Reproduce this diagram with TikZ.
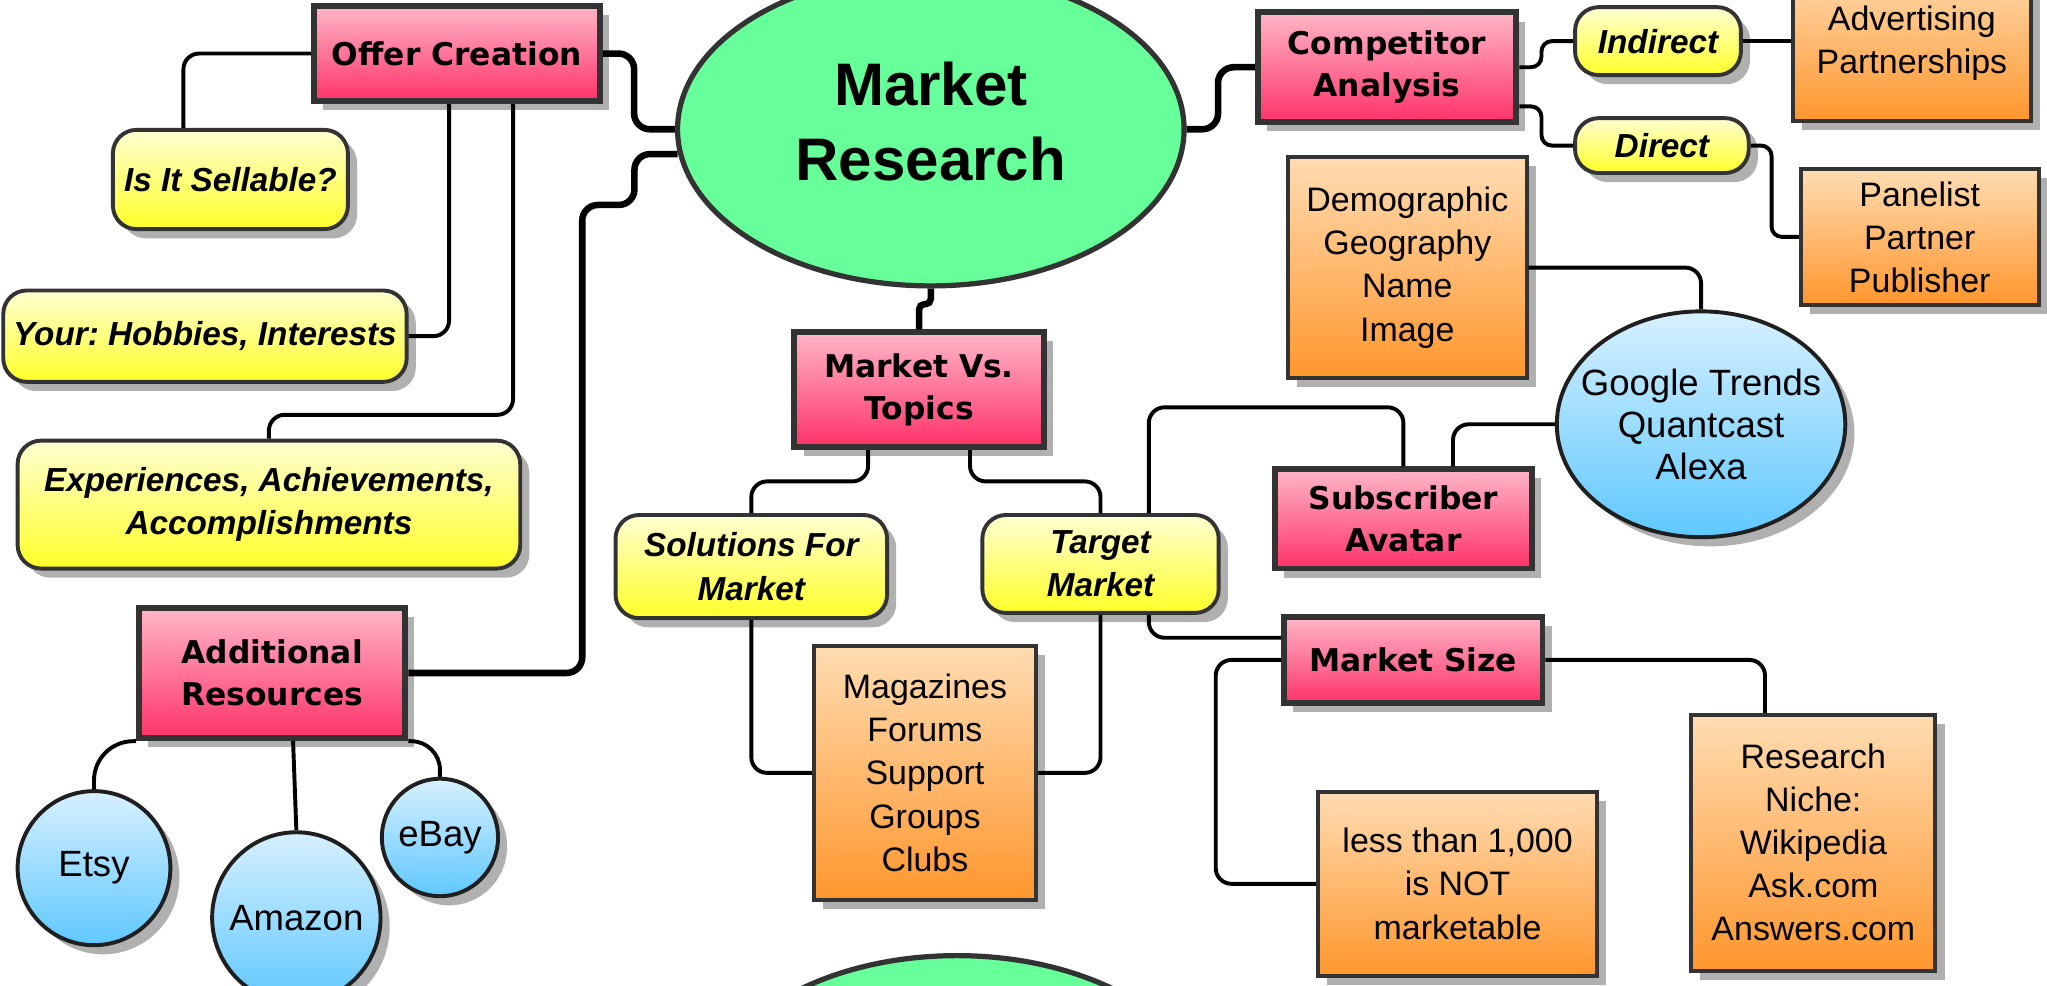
\documentclass[tikz,border=0pt]{standalone}
\usepackage{fontspec}
\setmainfont{Liberation Sans}
\newfontfamily\dejavu{DejaVu Sans}
\usetikzlibrary{shapes.geometric,shadows,calc}
\definecolor{bord}{RGB}{51,51,51}
\definecolor{shadowc}{RGB}{176,176,176}
\definecolor{pinktop}{RGB}{255,182,200}
\definecolor{pinkbot}{RGB}{255,50,105}
\definecolor{yeltop}{RGB}{255,255,210}
\definecolor{yelbot}{RGB}{255,255,40}
\definecolor{ortop}{RGB}{255,220,178}
\definecolor{orbot}{RGB}{255,150,45}
\definecolor{bltop}{RGB}{215,240,255}
\definecolor{blbot}{RGB}{95,200,255}
\definecolor{greenc}{RGB}{102,255,153}
\frenchspacing
\begin{document}
\begin{tikzpicture}[x=1pt,y=-1pt,
  shad/.style={drop shadow={shadow xshift=7pt,shadow yshift=-7pt,fill=shadowc,opacity=1}},
  pinkbox/.style={rectangle,draw=bord,line width=4.5pt,top color=pinktop,bottom color=pinkbot,shad,inner sep=0pt,align=center,font=\dejavu\bfseries\fontsize{24}{32.5}\selectfont},
  yelbox/.style={rectangle,rounded corners=18pt,draw=bord,line width=3pt,top color=yeltop,bottom color=yelbot,shad,inner sep=0pt,align=center,font=\bfseries\itshape\fontsize{25.5}{33}\selectfont},
  orbox/.style={rectangle,draw=bord,line width=3pt,top color=ortop,bottom color=orbot,shad,inner sep=0pt,align=center,font=\fontsize{26}{33}\selectfont},
  bluell/.style={ellipse,draw=black!88,line width=3pt,top color=bltop,bottom color=blbot,shad,inner xsep=-20pt,inner ysep=0pt,align=center,font=\fontsize{28}{32}\selectfont},
  greenell/.style={ellipse,draw=bord,line width=4pt,fill=greenc,inner sep=0pt},
  bigtext/.style={align=center,inner sep=0pt,font=\bfseries\fontsize{46}{57}\selectfont},
  conn/.style={draw=black,line width=3pt,rounded corners=12pt},
  mainconn/.style={conn,line width=5pt},
]
\useasboundingbox (0,0) rectangle (1568,755);
\clip (0,0) rectangle (1568,755);

% central nodes
\node[greenell,minimum width=388pt,minimum height=240pt] (mr) at (713,99) {};
\node[bigtext] (mrtext) at (713,93) {Market\\Research};
\node[greenell,minimum width=388pt,minimum height=240pt] (mrb) at (733,852) {};

% pink boxes
\node[pinkbox,minimum width=219pt,minimum height=73pt] (offer) at (350,41) {Offer Creation};
\node[pinkbox,minimum width=198pt,minimum height=84pt] (comp) at (1062.5,51.5) {Competitor\\Analysis};
\node[pinkbox,minimum width=191pt,minimum height=88pt] (mvt) at (704,298.5) {Market Vs.\\Topics};
\node[pinkbox,minimum width=197pt,minimum height=76pt] (subs) at (1075,397.5) {Subscriber\\Avatar};
\node[pinkbox,minimum width=198pt,minimum height=66pt] (msize) at (1082.5,505.5) {Market Size};
\node[pinkbox,minimum width=204pt,minimum height=100pt] (addres) at (208.5,515.5) {Additional\\Resources};

% yellow boxes
\node[yelbox,minimum width=180pt,minimum height=76pt] (sell) at (176.5,137.5) {Is It Sellable?};
\node[yelbox,minimum width=309pt,minimum height=70pt] (hobb) at (157,257.5) {Your: Hobbies, Interests};
\node[yelbox,minimum width=385pt,minimum height=98pt] (exper) at (206,386.5) {Experiences, Achievements,\\Accomplishments};
\node[yelbox,minimum width=208pt,minimum height=79pt] (sol) at (575.5,434) {Solutions For\\Market};
\node[yelbox,minimum width=181pt,minimum height=75pt] (targ) at (843,432) {Target\\Market};
\node[yelbox,minimum width=127pt,minimum height=52pt] (indir) at (1270,31.5) {Indirect};
\node[yelbox,minimum width=133pt,minimum height=42pt] (dir) at (1273,111.5) {Direct};

% orange boxes
\node[orbox,minimum width=182pt,minimum height=119pt] (adv) at (1464.5,33) {Advertising\\Partnerships};
\node[orbox,minimum width=182pt,minimum height=104pt] (panel) at (1470.5,181.5) {Panelist\\Partner\\Publisher};
\node[orbox,minimum width=183pt,minimum height=169pt] (demo) at (1078,205) {Demographic\\Geography\\Name\\Image};
\node[orbox,minimum width=170pt,minimum height=195pt] (mag) at (708.5,592) {Magazines\\Forums\\Support\\Groups\\Clubs};
\node[orbox,minimum width=214pt,minimum height=141pt] (less) at (1116.5,677) {less than 1,000\\is NOT\\marketable};
\node[orbox,minimum width=187pt,minimum height=196pt] (niche) at (1389,645.5) {Research\\Niche:\\Wikipedia\\Ask.com\\Answers.com};

% blue ellipses
\node[bluell,minimum width=221pt,minimum height=173pt] (google) at (1303,325) {Google Trends\\Quantcast\\Alexa};
\node[bluell,minimum width=117pt,minimum height=118pt] (etsy) at (72,665) {Etsy};
\node[bluell,minimum width=129pt,minimum height=131pt] (amazon) at (227,703) {Amazon};
\node[bluell,minimum width=89pt,minimum height=90pt] (ebay) at (337,641.5) {eBay};

% connectors from the centre
\draw[mainconn] (offer.east) -- ++(24,0) |- (mr.west);
\draw[mainconn] ($(mr.center)+(-194,19)$) -- ++(-33,0) -- ++(0,39) -- ++(-40,0) |- (addres.east);
\draw[mainconn] (mr.east) -- ++(24,0) |- (comp.west);
\draw[mainconn,rounded corners=4pt] (mr.south) -- ++(0,12) -| (mvt.north);

% offer creation
\draw[conn] (offer.west) -| ($(sell.north)+(-36,0)$);
\draw[conn] ($(offer.south)+(-6,0)$) |- (hobb.east);
\draw[conn] ($(offer.south)+(43,0)$) -- ++(0,238) -| (exper.north);

% additional resources
\draw[conn,rounded corners=30pt] (addres.south west) -| (etsy.north);
\draw[conn] ($(addres.south)+(16,0)$) -- (amazon.north);
\draw[conn,rounded corners=22pt] (addres.south east) -| (ebay.north);

% market vs topics
\draw[conn] ($(mvt.south)+(-39,0)$) -- ++(0,24) -| (sol.north);
\draw[conn] ($(mvt.south)+(39,0)$) -- ++(0,24) -| (targ.north);
\draw[conn] (sol.south) |- (mag.west);
\draw[conn] (targ.south) |- (mag.east);
\draw[conn] ($(targ.north)+(37,0)$) -- ++(0,-81) -| (subs.north);
\draw[conn] ($(targ.south)+(37,0)$) |- ($(msize.west)+(0,-17)$);
\draw[conn] (google.west) -| ($(subs.north)+(38,0)$);
\draw[conn] (demo.east) -| (google.north);
\draw[conn] (msize.west) -- ++(-50,0) |- (less.west);
\draw[conn] (msize.east) -| ($(niche.north)+(-37,0)$);

% competitor analysis
\draw[conn,rounded corners=8pt] (comp.east) -- ++(17,0) |- (indir.west);
\draw[conn,rounded corners=8pt] ($(comp.east)+(0,30)$) -- ++(17,0) |- (dir.west);
\draw[conn] (indir.east) -- (indir.east -| adv.west);
\draw[conn,rounded corners=8pt] (dir.east) -- ++(16,0) |- (panel.west);
\end{tikzpicture}
\end{document}
